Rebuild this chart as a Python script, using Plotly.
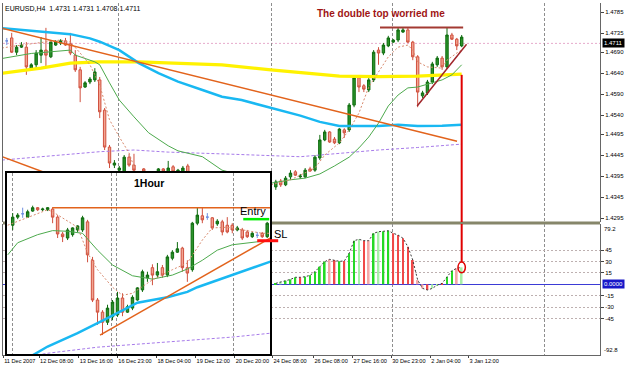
import plotly.graph_objects as go

FONT = "Liberation Sans"

# ---------------- main window: EURUSD H4 (bars 38-54 sit behind the 1H inset) ----------------
H4_BAR = list(range(0, 38)) + list(range(55, 94))
H4_OPEN = [1.4717,
           1.4724, 1.4690, 1.4702, 1.4702, 1.4652, 1.4660, 1.4683, 1.4695, 1.4679, 1.4707,
           1.4712, 1.4717, 1.4710, 1.4683, 1.4648, 1.4607, 1.4619, 1.4624, 1.4624, 1.4552,
           1.4464, 1.4421, 1.4409, 1.4395, 1.4440, 1.4421, 1.4386, 1.4412, 1.4395, 1.4397,
           1.4407, 1.4412, 1.4400, 1.4417, 1.4405, 1.4400, 1.4419,
           1.4369, 1.4383, 1.4374, 1.4393, 1.4405, 1.4393, 1.4393, 1.4412, 1.4409, 1.4438,
           1.4481, 1.4500, 1.4483, 1.4474, 1.4505, 1.4505, 1.4564, 1.4629, 1.4610, 1.4600,
           1.4624, 1.4695, 1.4688, 1.4705, 1.4714, 1.4719, 1.4738, 1.4743, 1.4714, 1.4679,
           1.4586, 1.4593, 1.4619, 1.4660, 1.4676, 1.4655, 1.4731, 1.4721, 1.4705]
H4_HIGH = [1.4724,
           1.4736, 1.4707, 1.4714, 1.4714, 1.4664, 1.4695, 1.4726, 1.4748, 1.4719, 1.4719,
           1.4721, 1.4724, 1.4736, 1.4695, 1.4655, 1.4621, 1.4631, 1.4652, 1.4631, 1.4557,
           1.4469, 1.4433, 1.4419, 1.4445, 1.4448, 1.4448, 1.4400, 1.4414, 1.4405, 1.4407,
           1.4414, 1.4414, 1.4431, 1.4421, 1.4412, 1.4419, 1.4424,
           1.4386, 1.4388, 1.4395, 1.4409, 1.4409, 1.4400, 1.4414, 1.4417, 1.4445, 1.4493,
           1.4505, 1.4502, 1.4488, 1.4509, 1.4509, 1.4569, 1.4631, 1.4631, 1.4614, 1.4629,
           1.4695, 1.4702, 1.4712, 1.4729, 1.4721, 1.4748, 1.4748, 1.4748, 1.4717, 1.4683,
           1.4598, 1.4624, 1.4667, 1.4681, 1.4681, 1.4748, 1.4736, 1.4724, 1.4731]
H4_LOW = [1.4707,
          1.4688, 1.4683, 1.4700, 1.4636, 1.4648, 1.4652, 1.4664, 1.4655, 1.4676, 1.4705,
          1.4707, 1.4705, 1.4683, 1.4643, 1.4571, 1.4605, 1.4614, 1.4619, 1.4533, 1.4457,
          1.4414, 1.4414, 1.4397, 1.4390, 1.4417, 1.4397, 1.4376, 1.4400, 1.4386, 1.4390,
          1.4400, 1.4397, 1.4395, 1.4395, 1.4397, 1.4395, 1.4390,
          1.4362, 1.4369, 1.4371, 1.4386, 1.4395, 1.4388, 1.4390, 1.4405, 1.4405, 1.4433,
          1.4478, 1.4474, 1.4471, 1.4471, 1.4486, 1.4500, 1.4559, 1.4595, 1.4595, 1.4595,
          1.4619, 1.4660, 1.4683, 1.4702, 1.4712, 1.4714, 1.4736, 1.4712, 1.4671, 1.4559,
          1.4581, 1.4588, 1.4614, 1.4655, 1.4648, 1.4650, 1.4719, 1.4695, 1.4702]
H4_CLOSE = [1.4717,
            1.4690, 1.4702, 1.4707, 1.4655, 1.4660, 1.4688, 1.4695, 1.4683, 1.4714, 1.4714,
            1.4717, 1.4707, 1.4688, 1.4648, 1.4605, 1.4617, 1.4626, 1.4643, 1.4548, 1.4464,
            1.4426, 1.4426, 1.4414, 1.4440, 1.4421, 1.4409, 1.4395, 1.4407, 1.4400, 1.4405,
            1.4412, 1.4407, 1.4414, 1.4405, 1.4409, 1.4414, 1.4400,
            1.4381, 1.4374, 1.4390, 1.4402, 1.4397, 1.4395, 1.4409, 1.4407, 1.4440, 1.4481,
            1.4500, 1.4476, 1.4474, 1.4507, 1.4498, 1.4564, 1.4629, 1.4607, 1.4602, 1.4624,
            1.4690, 1.4688, 1.4707, 1.4724, 1.4719, 1.4743, 1.4743, 1.4714, 1.4679, 1.4595,
            1.4593, 1.4619, 1.4662, 1.4676, 1.4655, 1.4731, 1.4721, 1.4705, 1.4726]

# moving averages (bar, price)
MA_YELLOW_BAR = [-1, 7, 13, 19, 27, 35, 44, 54, 64, 68, 76, 84, 93]
MA_YELLOW = [1.4640, 1.4652, 1.4664, 1.4667, 1.4667, 1.4664, 1.4660, 1.4648, 1.4636, 1.4633, 1.4632, 1.4633, 1.4638]
MA_BLUE_BAR = [-1, 13, 17, 19, 23, 27, 31, 35, 40, 44, 48, 52, 56, 60, 64, 66, 68, 72, 76, 80, 84, 89, 93]
MA_BLUE = [1.4747, 1.4733, 1.4723, 1.4715, 1.4695, 1.4664, 1.4640, 1.4620, 1.4600, 1.4584, 1.4576, 1.4564,
           1.4552, 1.4539, 1.4524, 1.4519, 1.4514, 1.4514, 1.4514, 1.4517, 1.4514, 1.4515, 1.4517]
MA_PURPLE_BAR = [-1, 19, 26, 33, 46, 60, 68, 76, 84, 93]
MA_PURPLE = [1.4433, 1.4453, 1.4457, 1.4452, 1.4447, 1.4441, 1.4449, 1.4457, 1.4463, 1.4471]
MA_GREEN_BAR = [-1, 5, 13, 14, 18, 19, 21, 23, 26, 29, 33, 35, 40, 44, 54, 58, 61, 64, 67, 70,
                72, 74, 76, 78, 80, 82, 84, 89, 91, 93]
MA_GREEN = [1.4675, 1.4687, 1.4695, 1.4683, 1.4667, 1.4660, 1.4617, 1.4576, 1.4536, 1.4498,
            1.4467, 1.4455, 1.4441, 1.4409, 1.4378, 1.4386, 1.4390, 1.4400, 1.4419, 1.4440,
            1.4462, 1.4488, 1.4521, 1.4562, 1.4588, 1.4605, 1.4607, 1.4624, 1.4636, 1.4660]
MA_FAST_BAR = [-1, 3, 11, 13, 15, 17, 19, 21, 23, 25, 26, None,
               54, 58, 63, 65, 68, 70, 72, 74, 78, 80, 82, 83, 84, 86, 89, 90, 92, 93]
MA_FAST = [1.4700, 1.4707, 1.4719, 1.4714, 1.4688, 1.4660, 1.4612, 1.4529, 1.4488, 1.4450, 1.4417, None,
           1.4374, 1.4386, 1.4414, 1.4445, 1.4474, 1.4505, 1.4545, 1.4607, 1.4679, 1.4702, 1.4707,
           1.4695, 1.4667, 1.4655, 1.4652, 1.4671, 1.4688, 1.4695]

# hand-drawn lines on the H4 chart
TREND_DOWN_BAR, TREND_DOWN = [-1.39, 92.05], [1.4748, 1.4478]
TREND_LOW_BAR, TREND_LOW = [-1.39, 12.0], [1.4443, 1.4385]
DOUBLE_TOP_BAR, DOUBLE_TOP = [76.3, 93.3], [1.4749, 1.4749]
RISE_BAR, RISE = [83.9, 94.0], [1.4562, 1.4709]
LAST_PRICE = 1.4711
MARK_BAR = 93
MARK_TOP = 1.4636

PRICE_TICKS = [1.4785, 1.4735, 1.4690, 1.4640, 1.4590, 1.4540, 1.4495, 1.4445, 1.4395, 1.4345, 1.4295]
GRID_BARS = [22.9, 54.2, 78.9, 110.0]
XTICK_BARS = [-0.75, 6.6, 14.7, 22.6, 30.6, 38.6, 46.6, 54.3, 62.7, 70.7, 78.6, 86.6, 94.4]
XTICK_TEXT = ["11 Dec 2007", "12 Dec 08:00", "13 Dec 16:00", "16 Dec 23:00", "18 Dec 04:00",
              "19 Dec 12:00", "20 Dec 20:00", "24 Dec 08:00", "26 Dec 08:00", "27 Dec 16:00",
              "30 Dec 23:00", "2 Jan 04:00", "3 Jan 12:00"]

# ---------------- oscillator window ----------------
HIST_BAR = list(range(55, 94))
HIST_VAL = [1.3, 3.4, 4.7, 6.5, 9.2, 9.2, 10.0, 11.8, 16.6, 23.1, 29.7, 32.8, 31.9, 30.2, 30.6,
            40.7, 57.3, 59.1, 57.3, 57.3, 67.0, 69.1, 69.6, 70.4, 67.0, 64.7, 60.4, 49.4, 31.9, 5.6,
            -5.3, -7.5, -5.3, -1.0, 1.3, 10.0, 17.9, 21.0, 22.3]
HIST_COL = ["G", "LG", "G", "G", "G", "R", "G", "G", "G", "G", "G", "LR", "R", "G", "R",
            "G", "G", "LG", "R", "LR", "G", "LG", "G", "G", "R", "R", "R", "R", "R", "LR",
            "LR", "R", "LG", "LG", "R", "G", "G", "LR", "LG"]
IND_TICKS = [45, 30, 15, -15, -30, -45]
IND_MIN, IND_MAX = -92.8, 79.2

# ---------------- 1 Hour inset ----------------
IN_BAR = list(range(0, 52))
IN_OPEN = [1.4723, 1.4735, 1.4740, 1.4735, 1.4744, 1.4749, 1.4746, 1.4746, 1.4747, 1.4735,
           1.4710, 1.4704, 1.4709, 1.4716, 1.4716, 1.4728, 1.4671, 1.4612, 1.4594, 1.4579,
           1.4587, 1.4590, 1.4615, 1.4594, 1.4600, 1.4612, 1.4627, 1.4645, 1.4660, 1.4649,
           1.4660, 1.4649, 1.4674, 1.4683, 1.4689, 1.4660, 1.4657, 1.4726, 1.4737, 1.4735,
           1.4734, 1.4725, 1.4728, 1.4723, 1.4723, 1.4716, 1.4716, 1.4713, 1.4706, 1.4708,
           1.4711, 1.4706]
IN_HIGH = [1.4741, 1.4741, 1.4749, 1.4746, 1.4752, 1.4750, 1.4749, 1.4750, 1.4749, 1.4738,
           1.4713, 1.4719, 1.4720, 1.4723, 1.4737, 1.4731, 1.4676, 1.4615, 1.4597, 1.4605,
           1.4612, 1.4624, 1.4622, 1.4605, 1.4619, 1.4631, 1.4657, 1.4654, 1.4665, 1.4667,
           1.4664, 1.4679, 1.4686, 1.4698, 1.4691, 1.4671, 1.4728, 1.4750, 1.4750, 1.4741,
           1.4735, 1.4732, 1.4731, 1.4735, 1.4726, 1.4722, 1.4719, 1.4716, 1.4713, 1.4713,
           1.4713, 1.4728]
IN_LOW = [1.4716, 1.4732, 1.4734, 1.4734, 1.4743, 1.4744, 1.4744, 1.4744, 1.4726, 1.4704,
          1.4698, 1.4701, 1.4706, 1.4713, 1.4713, 1.4668, 1.4609, 1.4575, 1.4560, 1.4575,
          1.4582, 1.4587, 1.4588, 1.4593, 1.4597, 1.4611, 1.4624, 1.4639, 1.4634, 1.4645,
          1.4645, 1.4646, 1.4671, 1.4682, 1.4654, 1.4639, 1.4654, 1.4723, 1.4726, 1.4731,
          1.4716, 1.4722, 1.4708, 1.4711, 1.4711, 1.4714, 1.4701, 1.4704, 1.4704, 1.4704,
          1.4704, 1.4704]
IN_CLOSE = [1.4735, 1.4738, 1.4740, 1.4743, 1.4749, 1.4746, 1.4747, 1.4749, 1.4735, 1.4710,
            1.4706, 1.4716, 1.4719, 1.4722, 1.4734, 1.4679, 1.4612, 1.4594, 1.4579, 1.4600,
            1.4609, 1.4615, 1.4594, 1.4602, 1.4616, 1.4630, 1.4654, 1.4649, 1.4649, 1.4654,
            1.4649, 1.4676, 1.4683, 1.4688, 1.4660, 1.4652, 1.4726, 1.4738, 1.4731, 1.4735,
            1.4719, 1.4729, 1.4713, 1.4713, 1.4716, 1.4719, 1.4704, 1.4706, 1.4711, 1.4708,
            1.4706, 1.4726]
IN_BLUE_BAR = [1, 4, 7, 13, 19, 25, 31, 35, 37, 44, 52]
IN_BLUE = [1.4524, 1.4530, 1.4543, 1.4563, 1.4585, 1.4608, 1.4616, 1.4624, 1.4631, 1.4649, 1.4670]
IN_GREEN_BAR = [-1, 1, 5, 8, 11, 14, 17, 20, 24, 28, 32, 35, 38, 41, 44, 48, 52]
IN_GREEN = [1.4679, 1.4697, 1.4709, 1.4715, 1.4714, 1.4711, 1.4686, 1.4664, 1.4648, 1.4643,
            1.4649, 1.4658, 1.4671, 1.4686, 1.4694, 1.4698, 1.4701]
IN_FAST_BAR = [-1, 3, 7, 8, 13, 15, 17, 20, 22, 24, 28, 32, 35, 38, 40, 43, 46, 50, 52]
IN_FAST = [1.4723, 1.4735, 1.4746, 1.4743, 1.4720, 1.4682, 1.4657, 1.4631, 1.4619, 1.4622,
           1.4642, 1.4657, 1.4667, 1.4701, 1.4719, 1.4720, 1.4716, 1.4711, 1.4711]
IN_PURPLE_BAR = [3, 7, 17, 28, 38, 44, 52]
IN_PURPLE = [1.4528, 1.4533, 1.4542, 1.4548, 1.4553, 1.4557, 1.4563]
IN_RES_BAR, IN_RES = [7.9, 52.0], [1.4749, 1.4749]
IN_TREND_BAR, IN_TREND = [17.5, 51.6], [1.4560, 1.4704]
IN_LAST = 1.4716
IN_GRID = [0.0, 19.7, 20.7, 44.2]
ENTRY, ENTRY_BARS = 1.4732, [46.2, 51.4]
SL, SL_BARS = 1.4700, [49.0, 53.2]

# ---------------- layout geometry ----------------
W, H = 625, 368
def px_x(a):
    return a / W
def px_y(b):
    return 1 - b / H

X_RANGE = [-0.777, 121.28]
Y_RANGE = [1.42855, 1.48072]
IN_X_RANGE = [-1.142, 51.56]
IN_Y_RANGE = [1.45319, 1.48005]
IN_X_DOMAIN = [px_x(7), px_x(270)]


def inset_bar_to_paper(k):
    frac = (k - IN_X_RANGE[0]) / (IN_X_RANGE[1] - IN_X_RANGE[0])
    return IN_X_DOMAIN[0] + frac * (IN_X_DOMAIN[1] - IN_X_DOMAIN[0])


BULL_LINE, BULL_FILL = "#0E6B0E", "#2A932A"
BEAR_LINE, BEAR_FILL = "#D0503E", "#F3A592"
DOJI = "#6F8FE0"
HCOL = {"G": "#25D925", "LG": "#A8F0A8", "R": "#F04848", "LR": "#F5A8A8"}
GRIDC = "#8E8E8E"

fig = go.Figure()


def add_candles(x, o, h, l, c, xa, ya):
    norm = [[], [], [], [], []]
    doji = [[], [], [], [], []]
    for row in zip(x, o, h, l, c):
        tgt = doji if row[1] == row[4] else norm
        for lst, v in zip(tgt, row):
            lst.append(v)
    fig.add_trace(go.Candlestick(
        x=norm[0], open=norm[1], high=norm[2], low=norm[3], close=norm[4], xaxis=xa, yaxis=ya,
        increasing=dict(line=dict(color=BULL_LINE, width=1), fillcolor=BULL_FILL),
        decreasing=dict(line=dict(color=BEAR_LINE, width=1), fillcolor=BEAR_FILL),
        whiskerwidth=0, showlegend=False, hoverinfo="skip"))
    if doji[0]:
        st = dict(line=dict(color=DOJI, width=1), fillcolor=DOJI)
        fig.add_trace(go.Candlestick(
            x=doji[0], open=doji[1], high=doji[2], low=doji[3], close=doji[4], xaxis=xa, yaxis=ya,
            increasing=st, decreasing=st, whiskerwidth=0, showlegend=False, hoverinfo="skip"))


def add_line(x, y, xa, ya, color, width, dash="solid"):
    fig.add_trace(go.Scatter(x=x, y=y, xaxis=xa, yaxis=ya, mode="lines",
                             line=dict(color=color, width=width, dash=dash),
                             connectgaps=False, showlegend=False, hoverinfo="skip"))


# main window
add_candles(H4_BAR, H4_OPEN, H4_HIGH, H4_LOW, H4_CLOSE, "x", "y")
add_line(MA_PURPLE_BAR, MA_PURPLE, "x", "y", "#A77BEA", 1, "3px,2px")
add_line(MA_YELLOW_BAR, MA_YELLOW, "x", "y", "#FFF200", 3.2)
add_line(MA_BLUE_BAR, MA_BLUE, "x", "y", "#19B8F2", 2.5)
add_line(MA_GREEN_BAR, MA_GREEN, "x", "y", "#4DAA4D", 1)
add_line(MA_FAST_BAR, MA_FAST, "x", "y", "#D88A6E", 1, "2px,2px")
add_line(TREND_DOWN_BAR, TREND_DOWN, "x", "y", "#E2631C", 1.5)
add_line(TREND_LOW_BAR, TREND_LOW, "x", "y", "#E2631C", 1.5)
add_line(DOUBLE_TOP_BAR, DOUBLE_TOP, "x", "y", "#A33A32", 2)
add_line(RISE_BAR, RISE, "x", "y", "#A0262A", 1.5)

# oscillator window
fig.add_trace(go.Bar(x=HIST_BAR, y=HIST_VAL, xaxis="x2", yaxis="y2", width=0.35,
                     marker=dict(color=[HCOL[c] for c in HIST_COL], line=dict(width=0)),
                     showlegend=False, hoverinfo="skip"))
add_line(HIST_BAR, HIST_VAL, "x2", "y2", "#3A3A3A", 1, "2px,2px")

# inset
add_line(IN_PURPLE_BAR, IN_PURPLE, "x3", "y3", "#A77BEA", 1, "3px,2px")
add_line(IN_BLUE_BAR, IN_BLUE, "x3", "y3", "#19B8F2", 2.5)
add_line(IN_GREEN_BAR, IN_GREEN, "x3", "y3", "#4DAA4D", 1)
add_line(IN_FAST_BAR, IN_FAST, "x3", "y3", "#D88A6E", 1, "2px,2px")
add_line(IN_RES_BAR, IN_RES, "x3", "y3", "#E2631C", 1.5)
add_line(IN_TREND_BAR, IN_TREND, "x3", "y3", "#E2631C", 1.5)
add_candles(IN_BAR, IN_OPEN, IN_HIGH, IN_LOW, IN_CLOSE, "x3", "y3")

tick_font = dict(family=FONT, size=6, color="black")
fig.update_layout(
    width=W, height=H, margin=dict(l=0, r=0, t=0, b=0, autoexpand=False),
    paper_bgcolor="white", plot_bgcolor="white", showlegend=False,
    font=dict(family=FONT, size=6, color="black"),
    xaxis=dict(domain=[px_x(3), px_x(600)], range=X_RANGE, anchor="y", automargin=False,
               tickmode="array", tickvals=GRID_BARS, showticklabels=False, ticks="",
               showgrid=True, gridcolor=GRIDC, griddash="3px,2px", gridwidth=1,
               zeroline=False, rangeslider=dict(visible=False)),
    yaxis=dict(domain=[px_y(222), px_y(3)], range=Y_RANGE, anchor="x", side="right", automargin=False,
               tickmode="array", tickvals=PRICE_TICKS, ticktext=[f"{v:.4f}" for v in PRICE_TICKS],
               ticks="outside", ticklen=3, tickcolor="#444", tickfont=tick_font,
               showgrid=False, zeroline=False, showline=True, mirror=True, linecolor="#666"),
    xaxis2=dict(domain=[px_x(3), px_x(600)], range=X_RANGE, anchor="y2", automargin=False,
                tickmode="array", tickvals=XTICK_BARS, ticktext=XTICK_TEXT, tickangle=0,
                ticklabelposition="outside right", ticks="outside", ticklen=2, tickcolor="#444",
                tickfont=dict(family=FONT, size=5.6, color="black"),
                showgrid=False, zeroline=False, showline=True, linecolor="#666",
                minor=dict(tickmode="array", tickvals=GRID_BARS, showgrid=True, gridcolor=GRIDC,
                           griddash="3px,2px", gridwidth=1, ticks="")),
    yaxis2=dict(domain=[px_y(355), px_y(224)], range=[IND_MIN, IND_MAX], anchor="x2", side="right",
                automargin=False,
                tickmode="array", tickvals=IND_TICKS, ticktext=[str(v) for v in IND_TICKS],
                ticks="outside", ticklen=3, tickcolor="#444", tickfont=tick_font,
                showgrid=True, gridcolor="#BDB0B0", griddash="2px,2px", gridwidth=1,
                zeroline=True, zerolinecolor="#3B3BD6", zerolinewidth=1,
                showline=True, mirror=True, linecolor="#666"),
    xaxis3=dict(domain=IN_X_DOMAIN, range=IN_X_RANGE, anchor="y3", automargin=False,
                tickmode="array", tickvals=IN_GRID, showticklabels=False, ticks="",
                showgrid=True, gridcolor=GRIDC, griddash="3px,2px", gridwidth=1, zeroline=False,
                showline=True, mirror=True, linecolor="black", linewidth=2,
                rangeslider=dict(visible=False)),
    yaxis3=dict(domain=[px_y(354), px_y(173)], range=IN_Y_RANGE, anchor="x3", automargin=False,
                showticklabels=False, ticks="", showgrid=False, zeroline=False,
                showline=True, mirror=True, linecolor="black", linewidth=2),
)

last_hist = HIST_VAL[-1]
shapes = [
    dict(type="line", xref="x domain", yref="y", x0=0, x1=1, y0=LAST_PRICE, y1=LAST_PRICE,
         line=dict(color="#E6AACB", width=1, dash="2px,2px"), layer="below"),
    dict(type="line", xref="x3 domain", yref="y3", x0=0, x1=1, y0=IN_LAST, y1=IN_LAST,
         line=dict(color="#CFCFCF", width=1), layer="below"),
    dict(type="rect", xref="paper", yref="paper", x0=px_x(3), x1=px_x(600), y0=px_y(224.6), y1=px_y(221.6),
         fillcolor="#86866A", line=dict(width=0), layer="below"),
    dict(type="line", xref="x", yref="y", x0=MARK_BAR, x1=MARK_BAR, y0=MARK_TOP, y1=Y_RANGE[0],
         line=dict(color="#E00000", width=2), layer="above"),
    dict(type="line", xref="x2", yref="y2", x0=MARK_BAR, x1=MARK_BAR, y0=IND_MAX, y1=last_hist + 7,
         line=dict(color="#E00000", width=2), layer="above"),
    dict(type="circle", xref="x2", yref="y2", x0=MARK_BAR - 0.75, x1=MARK_BAR + 0.75,
         y0=last_hist - 7, y1=last_hist + 7, line=dict(color="#E00000", width=1.5), layer="above"),
    dict(type="line", xref="paper", yref="y3",
         x0=inset_bar_to_paper(ENTRY_BARS[0]), x1=inset_bar_to_paper(ENTRY_BARS[1]), y0=ENTRY, y1=ENTRY,
         line=dict(color="#00EE00", width=2.5), layer="above"),
    dict(type="line", xref="paper", yref="y3",
         x0=inset_bar_to_paper(SL_BARS[0]), x1=inset_bar_to_paper(SL_BARS[1]), y0=SL, y1=SL,
         line=dict(color="#FF1010", width=3), layer="above"),
]
fig.update_layout(shapes=shapes)

ann = [
    dict(xref="paper", yref="paper", x=px_x(3), y=px_y(3), xanchor="left", yanchor="top",
         text="EURUSD,H4  1.4731 1.4731 1.4708 1.4711", showarrow=False,
         font=dict(family=FONT, size=7, color="black")),
    dict(xref="x", yref="y", x=63.0, y=1.4783, xanchor="left", yanchor="middle",
         text="<b>The double top worried me</b>", showarrow=False,
         font=dict(family=FONT, size=10, color="#A01414")),
    dict(xref="x3", yref="y3", x=23.9, y=1.4786, xanchor="left", yanchor="middle",
         text="<b>1Hour</b>", showarrow=False, font=dict(family=FONT, size=10.5, color="black")),
    dict(xref="x3", yref="y3", x=45.2, y=1.4744, xanchor="left", yanchor="middle",
         text="Entry", showarrow=False, font=dict(family=FONT, size=11, color="black")),
    dict(xref="paper", yref="y3", x=px_x(271.5), y=1.4710, xanchor="left", yanchor="middle",
         text="SL", showarrow=False, font=dict(family=FONT, size=11, color="black")),
    dict(xref="paper", yref="y", x=px_x(601.5), y=LAST_PRICE, xanchor="left", yanchor="middle",
         text="1.4711", showarrow=False, bgcolor="black", borderpad=1,
         font=dict(family=FONT, size=6, color="white")),
    dict(xref="paper", yref="y2", x=px_x(601.5), y=0, xanchor="left", yanchor="middle",
         text="0.0000", showarrow=False, bgcolor="#1818C8", borderpad=1,
         font=dict(family=FONT, size=6, color="white")),
    dict(xref="paper", yref="y2", x=px_x(602), y=IND_MAX, xanchor="left", yanchor="top",
         text=f"{IND_MAX}", showarrow=False, font=tick_font),
    dict(xref="paper", yref="y2", x=px_x(602), y=IND_MIN, xanchor="left", yanchor="bottom",
         text=f"{IND_MIN}", showarrow=False, font=tick_font),
]
fig.update_layout(annotations=ann)

fig.write_html("out.html")
